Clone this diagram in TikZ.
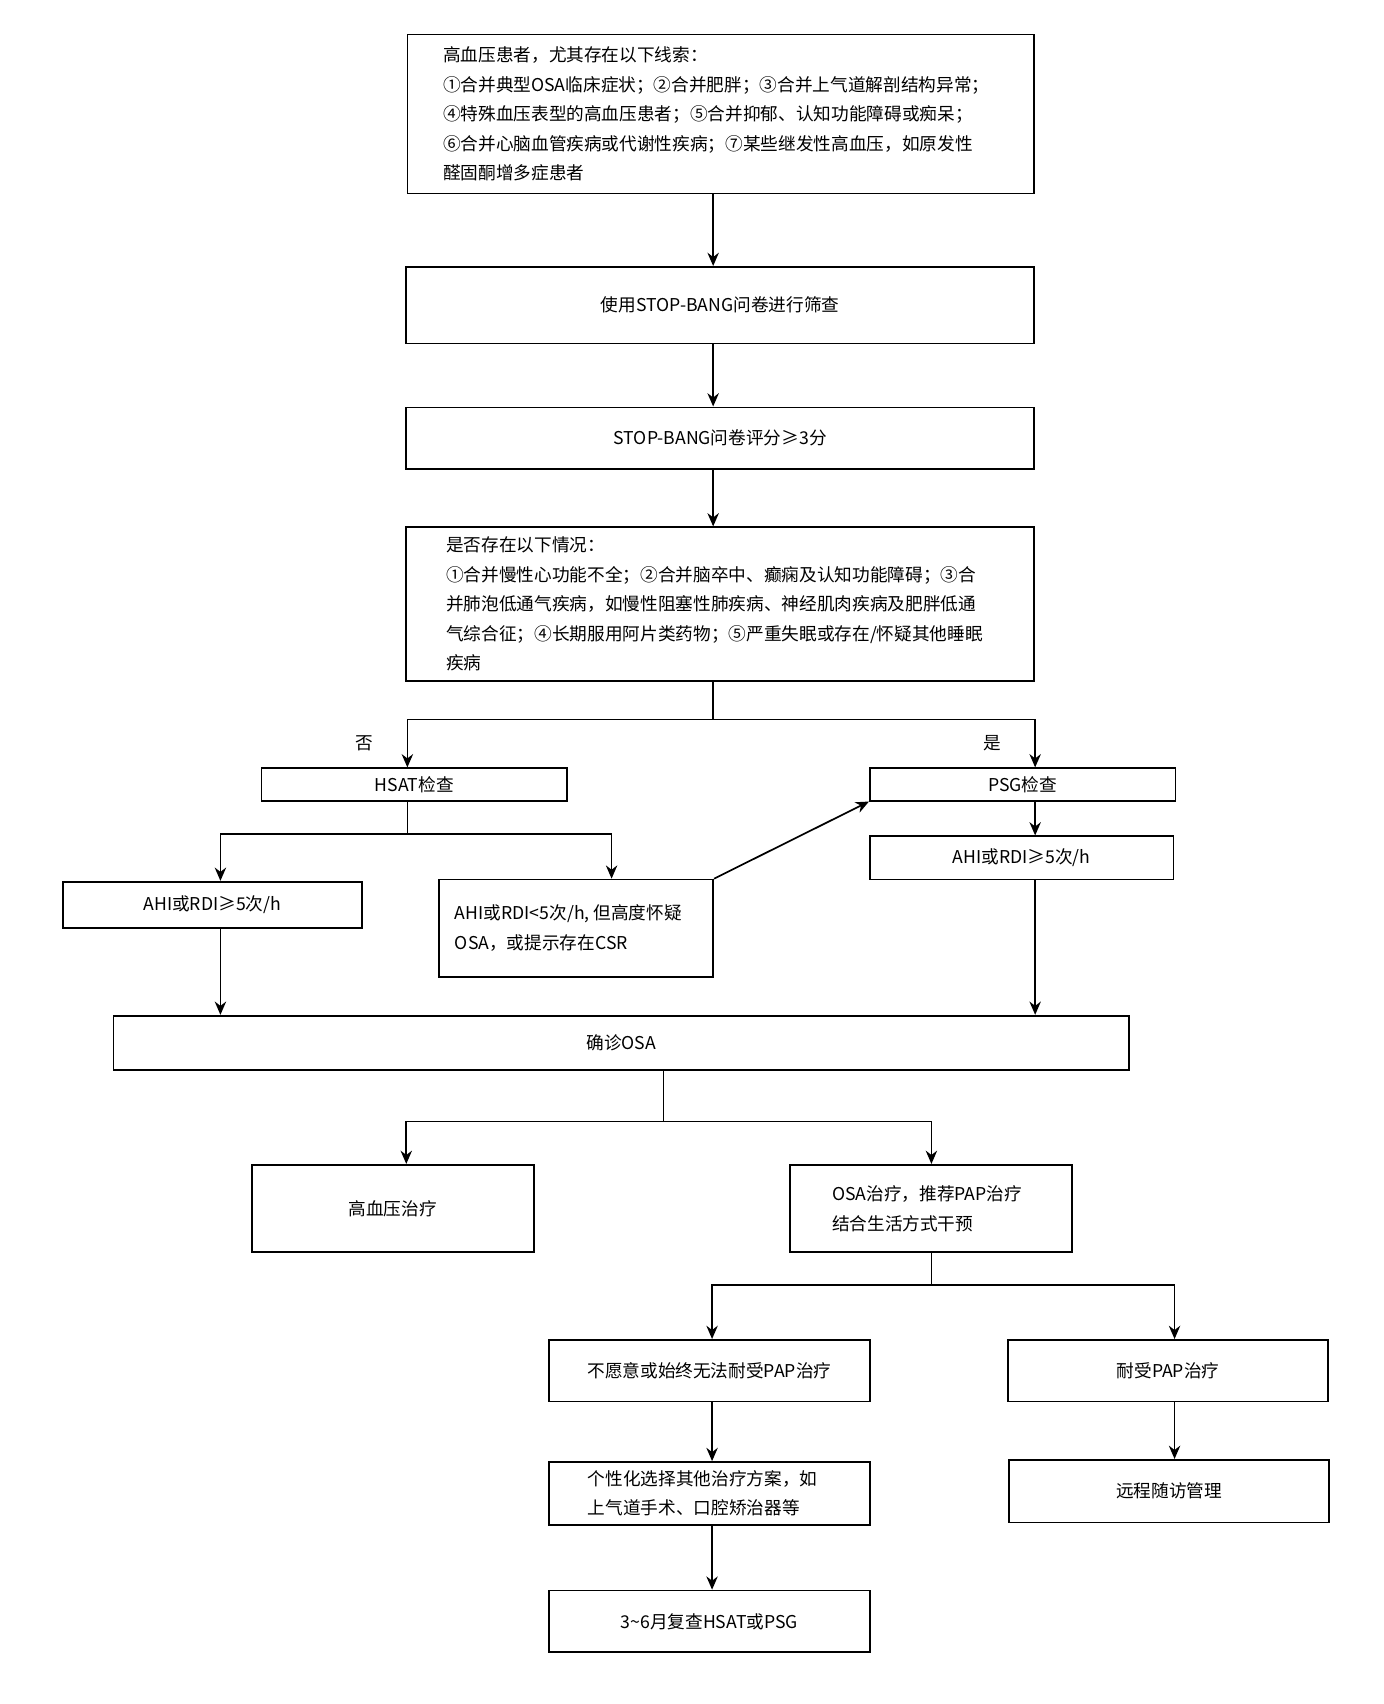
\documentclass[tikz,border=0pt]{standalone}
\usepackage{fontspec}
\setmainfont{Noto Sans CJK SC}
\usetikzlibrary{arrows.meta}
\newcommand{\bx}[6]{%
 \pgfmathsetmacro{\bw}{(#4-#2)*0.02}\pgfmathsetmacro{\bh}{(#5-#3)*0.02}%
 \node[box,minimum width=\bw cm,minimum height=\bh cm] (#1) at ({(#2+#4)/2},{-(#3+#5)/2}) {#6};}
\begin{document}
\begin{tikzpicture}[x=0.02cm,y=0.02cm,
 box/.style={draw,line width=0.9pt,inner sep=0pt,font=\fontsize{9.3}{15.5}\selectfont,align=center},
 arr/.style={line width=0.9pt,-{Stealth[length=7pt,width=6pt]}},
 ln/.style={line width=0.9pt}]
\useasboundingbox (0,0) rectangle (1280,-1577);
\bx{a}{377}{32}{957}{179}{\parbox{10.28cm}{\raggedright
高血压患者，尤其存在以下线索：\\
①合并典型OSA临床症状；②合并肥胖；③合并上气道解剖结构异常；\\
④特殊血压表型的高血压患者；⑤合并抑郁、认知功能障碍或痴呆；\\
⑥合并心脑血管疾病或代谢性疾病；⑦某些继发性高血压，如原发性\\
醛固酮增多症患者}}
\bx{b}{376}{247}{957}{318}{使用STOP-BANG问卷进行筛查}
\bx{c}{376}{377}{957}{434}{STOP-BANG问卷评分≥3分}
\bx{d}{376}{488}{957}{630}{\parbox{10.14cm}{\raggedright
是否存在以下情况：\\
①合并慢性心功能不全；②合并脑卒中、癫痫及认知功能障碍；③合\\
并肺泡低通气疾病，如慢性阻塞性肺疾病、神经肌肉疾病及肥胖低通\\
气综合征；④长期服用阿片类药物；⑤严重失眠或存在/怀疑其他睡眠\\
疾病}}
\bx{hsat}{242}{711}{525}{741}{HSAT检查}
\bx{psg}{805}{711}{1088}{741}{PSG检查}
\bx{al}{58}{816}{335}{859}{AHI或RDI≥5次/h}
\bx{am}{406}{814}{660}{904}{\parbox{4.48cm}{\raggedright AHI或RDI<5次/h, 但高度怀疑\\OSA，或提示存在CSR}}
\bx{ar}{805}{774}{1086}{814}{AHI或RDI≥5次/h}
\bx{dx}{105}{940}{1045}{990}{确诊OSA}
\bx{ht}{233}{1078}{494}{1159}{高血压治疗}
\bx{ot}{731}{1078}{992}{1159}{\parbox{3.66cm}{\raggedright OSA治疗，推荐PAP治疗\\结合生活方式干预}}
\bx{nw}{508}{1240}{805}{1297}{不愿意或始终无法耐受PAP治疗}
\bx{ny}{933}{1240}{1229}{1297}{耐受PAP治疗}
\bx{ge}{508}{1353}{805}{1411}{\parbox{4.5cm}{\raggedright 个性化选择其他治疗方案，如\\上气道手术、口腔矫治器等}}
\bx{fu}{508}{1472}{805}{1529}{3\textasciitilde 6月复查HSAT或PSG}
\bx{rm}{934}{1351}{1230}{1409}{远程随访管理}
\draw[arr] (a.south -| 660,0) -- (b.north -| 660,0);
\draw[arr] (b.south -| 660,0) -- (c.north -| 660,0);
\draw[arr] (c.south -| 660,0) -- (d.north -| 660,0);
\coordinate (s1) at (660,-666);
\draw[ln] (d.south -| s1) -- (s1);
\draw[arr] (s1) -- (377,-666) -- (hsat.north -| 377,0) node[pos=0.5,left=14pt,font=\fontsize{9.3}{12}\selectfont]{否};
\draw[arr] (s1) -- (958,-666) -- (psg.north -| 958,0) node[pos=0.5,left=14pt,font=\fontsize{9.3}{12}\selectfont]{是};
\coordinate (s2) at (377,-772);
\draw[ln] (hsat.south -| s2) -- (s2);
\draw[arr] (s2) -- (204,-772) -- (al.north -| 204,0);
\draw[arr] (s2) -- (566,-772) -- (am.north -| 566,0);
\draw[arr] (am.north east) -- (psg.south west);
\draw[arr] (psg.south -| 958,0) -- (ar.north -| 958,0);
\draw[arr] (al.south -| 204,0) -- (dx.north -| 204,0);
\draw[arr] (ar.south -| 958,0) -- (dx.north -| 958,0);
\coordinate (s3) at (614,-1038);
\draw[ln] (dx.south -| s3) -- (s3);
\draw[arr] (s3) -- (376,-1038) -- (ht.north -| 376,0);
\draw[arr] (s3) -- (862,-1038) -- (ot.north -| 862,0);
\coordinate (s4) at (862,-1189);
\draw[ln] (ot.south -| s4) -- (s4);
\draw[arr] (s4) -- (659,-1189) -- (nw.north -| 659,0);
\draw[arr] (s4) -- (1087,-1189) -- (ny.north -| 1087,0);
\draw[arr] (nw.south -| 659,0) -- (ge.north -| 659,0);
\draw[arr] (ge.south -| 659,0) -- (fu.north -| 659,0);
\draw[arr] (ny.south -| 1087,0) -- (rm.north -| 1087,0);
\end{tikzpicture}
\end{document}
